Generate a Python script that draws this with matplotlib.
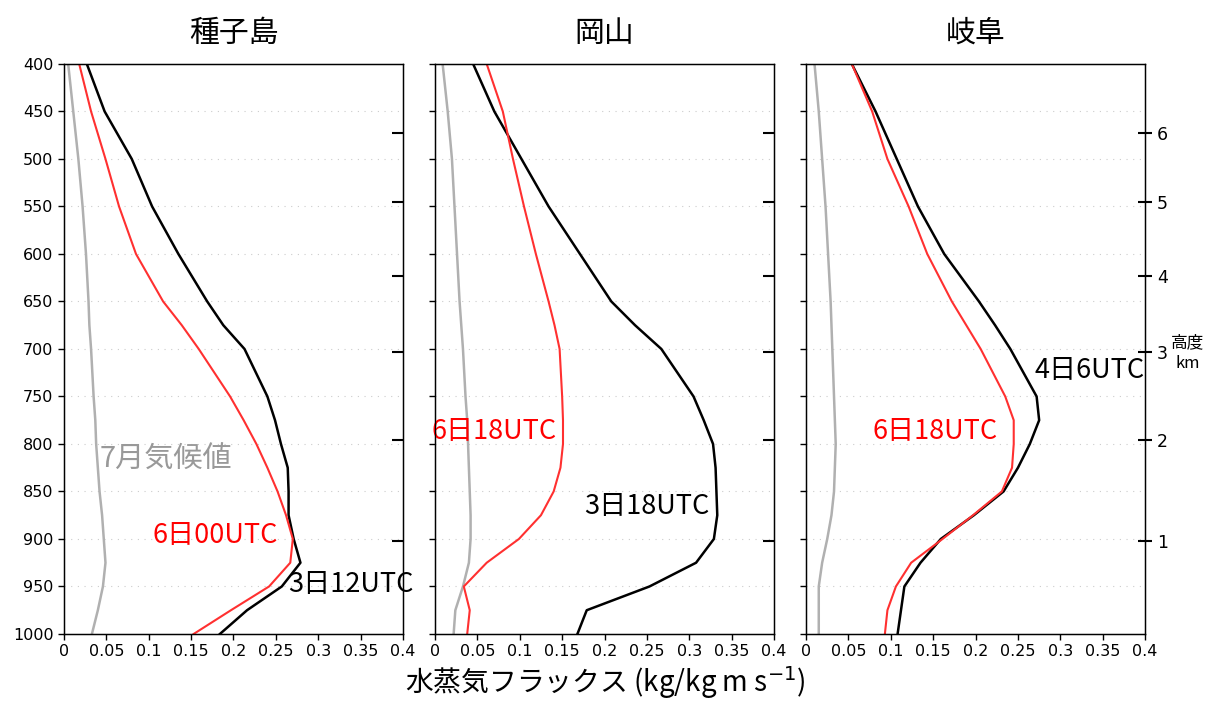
import numpy as np
import matplotlib.pyplot as plt

plt.rcParams['font.family'] = ['Noto Sans CJK JP', 'DejaVu Sans']

# pressure levels (hPa)
plev = [400, 450, 500, 550, 600, 650, 675, 700, 750, 775, 800, 825, 850, 875, 900, 925, 950, 975, 1000]

# 種子島
tane_black = [0.027, 0.048, 0.080, 0.104, 0.135, 0.169, 0.188, 0.213, 0.240, 0.249, 0.256, 0.264, 0.265, 0.265, 0.271, 0.279, 0.257, 0.216, 0.184]
tane_red = [0.018, 0.032, 0.049, 0.065, 0.085, 0.117, 0.139, 0.159, 0.196, 0.212, 0.227, 0.240, 0.252, 0.262, 0.270, 0.267, 0.242, 0.197, 0.153]
tane_gray = [0.005, 0.011, 0.017, 0.022, 0.026, 0.029, 0.030, 0.032, 0.035, 0.037, 0.038, 0.040, 0.042, 0.045, 0.047, 0.049, 0.046, 0.040, 0.033]

# 岡山
okay_black = [0.045, 0.070, 0.102, 0.134, 0.171, 0.208, 0.236, 0.267, 0.305, 0.317, 0.328, 0.331, 0.332, 0.333, 0.329, 0.308, 0.253, 0.179, 0.168]
okay_red = [0.061, 0.080, 0.092, 0.105, 0.119, 0.134, 0.141, 0.147, 0.150, 0.151, 0.151, 0.148, 0.140, 0.125, 0.099, 0.061, 0.034, 0.041, 0.038]
okay_gray = [0.009, 0.015, 0.020, 0.023, 0.026, 0.029, 0.031, 0.033, 0.036, 0.038, 0.039, 0.040, 0.041, 0.042, 0.042, 0.040, 0.033, 0.024, 0.022]

# 岐阜
gifu_black = [0.054, 0.082, 0.107, 0.132, 0.163, 0.204, 0.223, 0.241, 0.272, 0.275, 0.264, 0.250, 0.233, 0.198, 0.159, 0.135, 0.116, 0.112, 0.108]
gifu_red = [0.054, 0.078, 0.096, 0.121, 0.143, 0.172, 0.189, 0.206, 0.235, 0.245, 0.245, 0.243, 0.231, 0.197, 0.161, 0.124, 0.106, 0.096, 0.093]
gifu_gray = [0.010, 0.015, 0.019, 0.023, 0.026, 0.029, 0.030, 0.031, 0.033, 0.034, 0.035, 0.034, 0.033, 0.030, 0.025, 0.019, 0.015, 0.015, 0.015]

titles = ['種子島', '岡山', '岐阜']
blacks = [tane_black, okay_black, gifu_black]
reds = [tane_red, okay_red, gifu_red]
grays = [tane_gray, okay_gray, gifu_gray]

# height (km) vs pressure for right axis
height_km = [1, 2, 3, 4, 5, 6]
height_p = [902, 796, 703, 623, 545, 473]

xticks = [0, 0.05, 0.1, 0.15, 0.2, 0.25, 0.3, 0.35, 0.4]
xticklabels = ['0', '0.05', '0.1', '0.15', '0.2', '0.25', '0.3', '0.35', '0.4']
yticks = list(range(400, 1001, 50))

# annotation labels: (text, color, x, y, size)
notes = [
    [('7月気候値', '#999999', 0.042, 817, 21), ('6日00UTC', 'red', 0.105, 896, 19.5), ('3日12UTC', 'black', 0.264, 948, 19.5)],
    [('6日18UTC', 'red', -0.004, 787, 19.5), ('3日18UTC', 'black', 0.176, 866, 19.5)],
    [('4日6UTC', 'black', 0.270, 723, 19.5), ('6日18UTC', 'red', 0.078, 787, 19.5)],
]

fig = plt.figure(figsize=(12.11, 7.02), dpi=100)
lefts = [0.0528, 0.3592, 0.6656]
for i in range(3):
    ax = fig.add_axes([lefts[i], 0.0969, 0.280, 0.812])
    for p in yticks[1:-1]:
        ax.axhline(p, color='#cccccc', lw=0.8, ls=(0, (1, 5)), zorder=0)
    ax.plot(grays[i], plev, color='#b0b0b0', lw=1.8)
    ax.plot(blacks[i], plev, color='black', lw=1.8)
    ax.plot(reds[i], plev, color='#ff3030', lw=1.5)
    ax.set_xlim(0, 0.4)
    ax.set_ylim(1000, 400)
    ax.set_xticks(xticks)
    ax.set_xticklabels(xticklabels, family='DejaVu Sans', fontsize=11.5)
    ax.set_yticks(yticks)
    if i == 0:
        ax.set_yticklabels([str(v) for v in yticks], family='DejaVu Sans', fontsize=11.5)
    else:
        ax.set_yticklabels([])
    ax.tick_params(direction='out', length=4, width=1)
    for s in ax.spines.values():
        s.set_linewidth(1.0)
    ax.set_title(titles[i], fontsize=21.5, pad=16)

    ax2 = ax.twinx()
    ax2.set_ylim(1000, 400)
    ax2.set_yticks(height_p)
    if i == 2:
        ax2.set_yticklabels([str(h) for h in height_km], family='DejaVu Sans', fontsize=12.5)
        ax2.tick_params(direction='inout', length=10, width=1.5)
    else:
        ax2.set_yticklabels([])
        ax2.tick_params(direction='in', length=8, width=1.5)

    for txt, col, x, y, fs in notes[i]:
        ax.text(x, y, txt, color=col, fontsize=fs, va='center', ha='left', clip_on=False)

fig.text(0.981, 0.497, '高度\nkm', fontsize=12, ha='center', va='center', linespacing=1.25)
fig.text(0.5, 0.028, '水蒸気フラックス (kg/kg m s$^{-1}$)', fontsize=20, ha='center', va='center')

fig.savefig('out.png', dpi=100)
